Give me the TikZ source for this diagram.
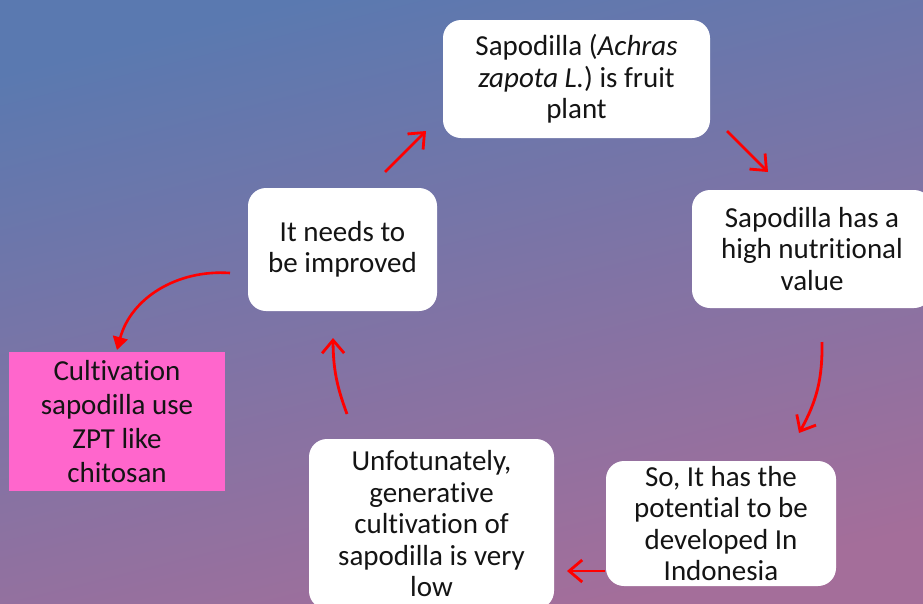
\documentclass[tikz,border=0pt]{standalone}
\usepackage{fontspec}
\setmainfont{Carlito}[Ligatures=NoCommon]
\usetikzlibrary{arrows.meta}
\definecolor{bgtop}{HTML}{5A79B0}
\definecolor{bgbot}{HTML}{A46E9A}
\definecolor{pinkbox}{HTML}{FF66CC}
\definecolor{arrred}{HTML}{FF0000}
\definecolor{txt}{HTML}{141414}
\begin{document}
\begin{tikzpicture}[x=1pt,y=-1pt,
  box/.style={fill=white, rounded corners=18pt, align=center, inner sep=0pt,
    text=txt, font=\fontsize{29}{31.5}\selectfont},
  pbox/.style={fill=pinkbox, align=center, inner sep=0pt,
    text=txt, font=\fontsize{29}{34}\selectfont},
  arr/.style={draw=arrred, line width=2.8pt, -{Straight Barb[length=13pt,width=22pt,line width=2.8pt]}},
  farr/.style={draw=arrred, line width=2.6pt, -{Triangle[length=13pt,width=15pt]}}]
\useasboundingbox (0,0) rectangle (923,603);
\shade[top color=bgtop, bottom color=bgbot, shading angle=14] (0,0) rectangle (923,603);
\node[box, minimum width=267pt, minimum height=118pt] (top) at (576.5,79)
  {Sapodilla (\textit{Achras}\\\textit{zapota L.}) is fruit\\plant};
\node[box, minimum width=240pt, minimum height=118pt] (right) at (812,249)
  {Sapodilla has a\\high nutritional\\value};
\node[box, minimum width=230pt, minimum height=125pt] (brt) at (721,523.5)
  {So, It has the\\potential to be\\developed In\\Indonesia};
\node[box, minimum width=245pt, minimum height=170pt] (bmid) at (431.5,524)
  {Unfotunately,\\generative\\cultivation of\\sapodilla is very\\low};
\node[box, minimum width=189pt, minimum height=123pt] (left) at (342.5,249.5)
  {It needs to\\be improved};
\node[pbox, minimum width=216pt, minimum height=139pt] (pink) at (117,421.5)
  {Cultivation\\sapodilla use\\ZPT like\\chitosan};
\coordinate (a1s) at (385,172); \coordinate (a1e) at (426,131);
\coordinate (a2s) at (727,131); \coordinate (a2e) at (768,172);
\coordinate (a3s) at (822,342); \coordinate (a3e) at (799,433);
\coordinate (a4s) at (605,571); \coordinate (a4e) at (567,571);
\coordinate (a5s) at (347,414); \coordinate (a5e) at (333,338);
\coordinate (a6s) at (230,273); \coordinate (a6e) at (117,350);
\draw[arr] (a1s) -- (a1e);
\draw[arr] (a2s) -- (a2e);
\draw[arr] (a3s) to[bend left=15] (a3e);
\draw[arr] (a4s) -- (a4e);
\draw[arr] (a5s) to[bend left=10] (a5e);
\draw[farr] (a6s) to[out=176,in=75] (a6e);
\end{tikzpicture}
\end{document}
